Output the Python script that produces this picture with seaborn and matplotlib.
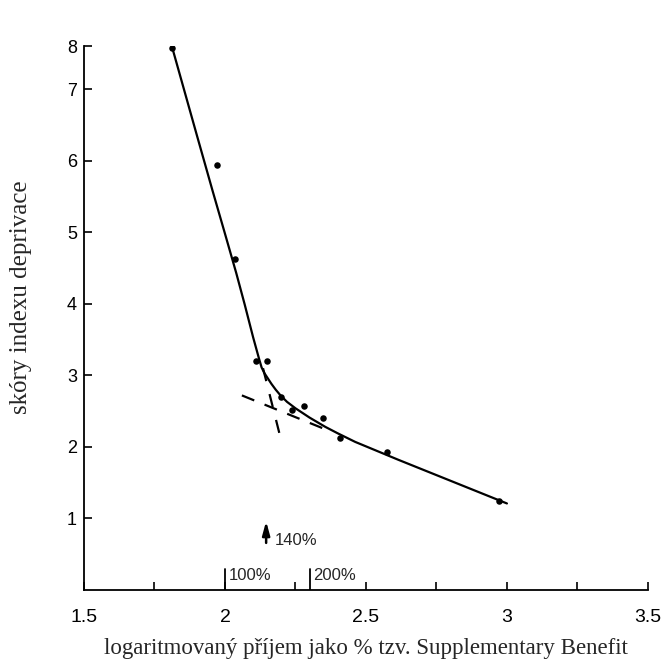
import matplotlib
matplotlib.use("Agg")
import numpy as np
import pandas as pd
import matplotlib.pyplot as plt
import seaborn as sns

# measured points (log income as % of Supplementary Benefit vs deprivation score)
point_x = [1.813, 1.970, 2.035, 2.109, 2.150, 2.197, 2.238, 2.282, 2.347, 2.409, 2.576, 2.973]
point_y = [7.58, 5.94, 4.62, 3.20, 3.20, 2.70, 2.51, 2.57, 2.40, 2.12, 1.93, 1.24]

# fitted curve
curve_x = [1.813, 1.900, 1.956, 2.000, 2.040, 2.070, 2.100, 2.121, 2.130, 2.140, 2.150, 2.165, 2.180,
           2.197, 2.220, 2.250, 2.300, 2.356, 2.400, 2.462, 2.615, 3.000]
curve_y = [7.58, 6.36, 5.58, 4.98, 4.43, 3.99, 3.53, 3.23, 3.11, 3.03, 2.97, 2.88, 2.80,
           2.72, 2.63, 2.54, 2.41, 2.28, 2.19, 2.07, 1.82, 1.21]

# extensions of the two straight segments (dashed)
steep_x = [2.135, 2.200]
steep_y = [3.10, 2.08]
flat_x = [2.060, 2.360]
flat_y = [2.72, 2.24]

y_ticks = [1, 2, 3, 4, 5, 6, 7]
y_top = 7.6
x_major = [1.5, 2.0, 2.5, 3.0, 3.5]
x_minor = [1.75, 2.25, 2.75, 3.25]

# reference markers on the income axis
pct_x = [2.0, 2.30]
pct_labels = ["100%", "200%"]
arrow_x = 2.146
arrow_label = "140%"


def main():
    sns.set_style("ticks")
    plt.rcParams["font.family"] = ["Liberation Sans", "DejaVu Sans"]
    narrow = ["Liberation Sans Narrow", "Liberation Sans", "DejaVu Sans"]
    serif = ["Liberation Serif", "DejaVu Serif"]

    fig = plt.figure(figsize=(6.65, 6.6), dpi=100)
    ax = fig.add_axes([0.1263, 0.106, 0.848, 0.824])

    curve = pd.DataFrame({"x": curve_x, "y": curve_y})
    pts = pd.DataFrame({"x": point_x, "y": point_y})

    sns.lineplot(data=curve, x="x", y="y", sort=False, estimator=None, color="black", linewidth=1.6, ax=ax)
    sns.lineplot(x=steep_x, y=steep_y, color="black", linewidth=1.6, ax=ax)
    sns.lineplot(x=flat_x, y=flat_y, color="black", linewidth=1.6, ax=ax)
    ax.lines[1].set_dashes((6, 6))
    ax.lines[2].set_dashes((6, 5))
    sns.scatterplot(data=pts, x="x", y="y", color="black", s=22, edgecolor="black", linewidth=0, ax=ax, zorder=3)

    # tall ticks for 100% / 200%
    for px, lab in zip(pct_x, pct_labels):
        ax.plot([px, px], [0, 0.29], color="black", linewidth=1.3)
        ax.text(px + 0.012, 0.2, lab, fontsize=12, va="center", ha="left", family=narrow)
    ax.annotate("", xy=(arrow_x, 1.0), xytext=(arrow_x, 0.62),
                arrowprops=dict(arrowstyle="-|>,head_length=0.8,head_width=0.22", color="black", lw=1.8))
    ax.text(arrow_x + 0.03, 0.69, arrow_label, fontsize=12, va="center", ha="left", family=narrow)

    ax.set_xlim(1.5, 3.5)
    ax.set_ylim(0, y_top)
    ax.set_xticks(x_major)
    ax.set_xticklabels(["1.5", "2", "2.5", "3", "3.5"])
    ax.set_xticks(x_minor, minor=True)
    ax.set_yticks(y_ticks + [y_top])
    ax.set_yticklabels([str(t) for t in y_ticks] + ["8"])
    ax.tick_params(axis="both", which="both", direction="in", length=6, width=1.2, colors="black")
    ax.tick_params(axis="x", pad=14, labelsize=14)
    ax.tick_params(axis="y", pad=5, labelsize=13)

    sns.despine(ax=ax)
    for s in ["left", "bottom"]:
        ax.spines[s].set_linewidth(1.3)
        ax.spines[s].set_color("black")

    ax.set_xlabel("logaritmovaný příjem jako % tzv. Supplementary Benefit", fontsize=16.5, family=serif)
    ax.set_ylabel("skóry indexu deprivace", fontsize=18, family=serif)
    ax.xaxis.set_label_coords(0.5, -0.088)
    ax.yaxis.set_label_coords(-0.092, 0.538)

    fig.savefig("out.png", dpi=100, facecolor="white")


if __name__ == "__main__":
    main()
